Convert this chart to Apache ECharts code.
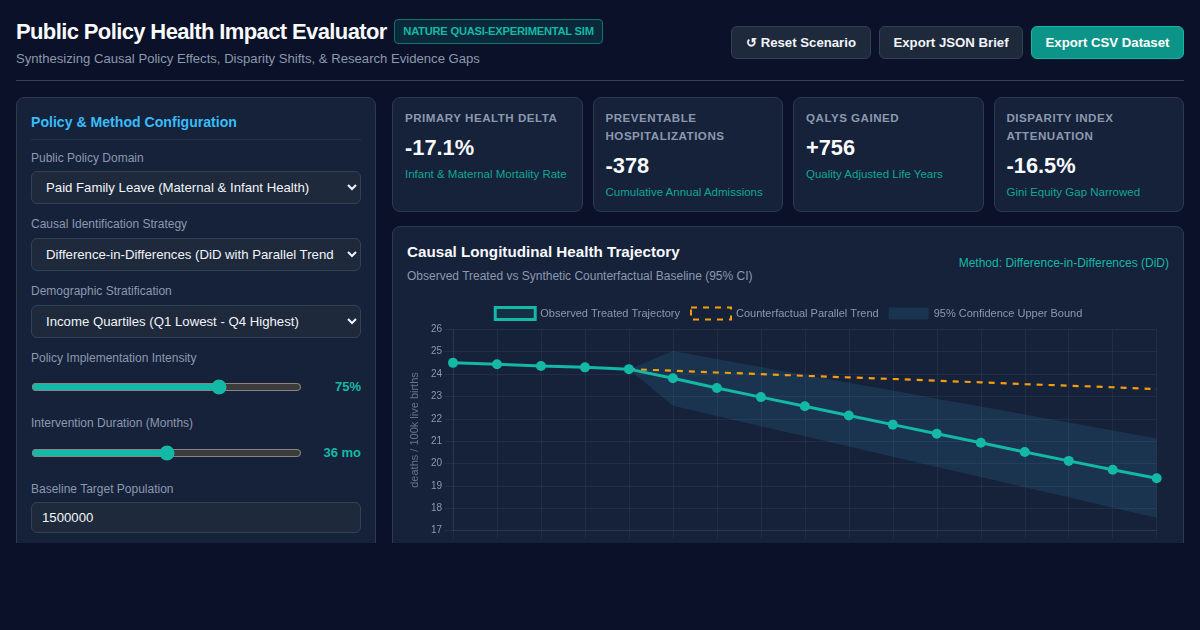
<!DOCTYPE html>
<html lang="en"><head><meta charset="utf-8">
<title>Public Policy Health Impact Evaluator</title>
<script src="https://cdn.jsdelivr.net/npm/echarts@6/dist/echarts.min.js"></script>
<style>
*{box-sizing:border-box}
html,body{margin:0;width:1200px;height:630px;overflow:hidden;background:#0a1128;color-scheme:dark;font-family:"Liberation Sans",Arial,sans-serif}
#page{position:relative;width:1200px;height:543px;overflow:hidden}
#page>*{position:absolute}
h1{margin:0;left:16px;top:17px;font-size:22px;line-height:30px;font-weight:700;letter-spacing:-.62px;color:#f8fafc;white-space:nowrap}
.badge{left:394px;top:19px;width:209px;height:25px;line-height:23px;text-align:center;border:1px solid #0f766e;border-radius:4px;background:rgba(20,184,166,.15);color:#14b8a6;font-size:11.2px;font-weight:700;letter-spacing:-.25px;white-space:nowrap}
.sub{left:16px;top:50px;font-size:13.12px;line-height:17px;color:#8b99ae;white-space:nowrap}
.btn{top:26px;height:33px;line-height:31px;text-align:center;border:1px solid #334155;border-radius:6px;background:#1e293b;color:#f1f5f9;font-size:13.2px;font-weight:700;white-space:nowrap}
.btn.pri{background:#0d9488;border-color:#14b8a6;color:#fff}
.rule{left:16px;top:80px;width:1168px;height:1px;background:#334155}
.panel{background:#16213a;border:1px solid #2c3a50;border-radius:8px}
.side{left:16px;top:97px;width:360px;height:480px}
.side>*{position:absolute}
.side h2{margin:0;left:14px;top:15px;font-size:14.1px;line-height:18px;color:#38bdf8;font-weight:700;white-space:nowrap}
.side .div{left:14px;top:41px;width:330px;height:1px;background:#25324a}
.side label{left:14px;font-size:12px;line-height:14px;color:#8b99ae;white-space:nowrap}
.side select,.side input.txt{left:14px;width:330px;height:33px;background:#1e293b;color:#f1f5f9;border:1px solid #334155;border-radius:6px;font:13.2px "Liberation Sans",Arial,sans-serif;padding:0 10px;outline:none}
.side input.txt{height:31px}
.side input[type=range]{left:14px;width:271px;margin:0;height:16px;accent-color:#14b8a6}
.side .val{right:14px;font-size:13px;font-weight:700;color:#14b8a6;line-height:16px;white-space:nowrap}
.card{top:97px;height:115px;width:190.5px;padding:11px 12px 0}
.card .k{font-size:11.6px;line-height:18px;font-weight:700;letter-spacing:.5px;color:#8b99ae;text-transform:uppercase}
.card .v{font-size:21.8px;line-height:28px;margin-top:7px;font-weight:700;color:#f8fafc}
.card .d{font-size:11.5px;line-height:14px;margin-top:5px;color:#10a696;white-space:nowrap}
.chartPanel{left:392px;top:226px;width:792px;height:360px}
.chartPanel>*{position:absolute}
.chartPanel h3{margin:0;left:14px;top:16px;font-size:15.2px;line-height:18px;color:#f8fafc;font-weight:700}
.chartPanel p{margin:0;left:14px;top:42px;font-size:12px;line-height:14px;color:#8b99ae}
.chartPanel .m{right:14px;top:29px;font-size:12px;line-height:14px;color:#14b8a6}
#chart{left:392px;top:290px;width:792px;height:253px}
</style></head><body>
<div id="page">
  <h1>Public Policy Health Impact Evaluator</h1>
  <div class="badge">NATURE QUASI-EXPERIMENTAL SIM</div>
  <div class="sub">Synthesizing Causal Policy Effects, Disparity Shifts, &amp; Research Evidence Gaps</div>
  <div class="btn" style="left:731px;width:140px">↺ Reset Scenario</div>
  <div class="btn" style="left:879px;width:144px">Export JSON Brief</div>
  <div class="btn pri" style="left:1031px;width:153px">Export CSV Dataset</div>
  <div class="rule"></div>

  <div class="panel side">
    <h2>Policy &amp; Method Configuration</h2><div class="div"></div>
    <label style="top:53px">Public Policy Domain</label>
    <select style="top:73px"><option>Paid Family Leave (Maternal &amp; Infant Health)</option></select>
    <label style="top:119px">Causal Identification Strategy</label>
    <select style="top:140px"><option>Difference-in-Differences (DiD with Parallel Trends)</option></select>
    <label style="top:186px">Demographic Stratification</label>
    <select style="top:207px"><option>Income Quartiles (Q1 Lowest - Q4 Highest)</option></select>
    <label style="top:253px">Policy Implementation Intensity</label>
    <input type="range" style="top:281px" min="15" max="100" value="75"><div class="val" style="top:281px">75%</div>
    <label style="top:318px">Intervention Duration (Months)</label>
    <input type="range" style="top:347px" min="12" max="60" value="36"><div class="val" style="top:347px">36 mo</div>
    <label style="top:384px">Baseline Target Population</label>
    <input class="txt" style="top:404px" value="1500000">
  </div>

  <div class="panel card" style="left:392px"><div class="k">Primary Health Delta</div><div class="v">-17.1%</div><div class="d">Infant &amp; Maternal Mortality Rate</div></div>
  <div class="panel card" style="left:592.5px"><div class="k">Preventable Hospitalizations</div><div class="v">-378</div><div class="d">Cumulative Annual Admissions</div></div>
  <div class="panel card" style="left:793px"><div class="k">QALYs Gained</div><div class="v">+756</div><div class="d">Quality Adjusted Life Years</div></div>
  <div class="panel card" style="left:993.5px"><div class="k">Disparity Index Attenuation</div><div class="v">-16.5%</div><div class="d">Gini Equity Gap Narrowed</div></div>

  <div class="panel chartPanel">
    <h3>Causal Longitudinal Health Trajectory</h3>
    <p>Observed Treated vs Synthetic Counterfactual Baseline (95% CI)</p>
    <div class="m">Method: Difference-in-Differences (DiD)</div>
  </div>
  <div id="chart"></div>
</div>
<script>
const months = ['M-12','M-9','M-6','M-3','M0','M3','M6','M9','M12','M15','M18','M21','M24','M27','M30','M33','M36'];
const observed = [24.5,24.44,24.36,24.3,24.22,23.81,23.38,22.97,22.56,22.15,21.74,21.33,20.93,20.52,20.12,19.72,19.34];
const counterfactual = [null,null,null,null,24.22,24.15,24.07,24.0,23.92,23.85,23.78,23.7,23.63,23.55,23.48,23.41,23.33];
const ciUpper = [null,null,null,null,24.22,25.03,24.67,24.32,23.97,23.61,23.26,22.9,22.55,22.19,21.84,21.48,21.13];
const ciLower = [null,null,null,null,24.22,22.58,22.13,21.67,21.22,20.76,20.31,19.85,19.4,18.94,18.49,18.03,17.58];
const yMin = 17, yMax = 26;
const names = ['Observed Treated Trajectory','Counterfactual Parallel Trend','95% Confidence Upper Bound'];

const gridCol = 'rgba(148,163,184,0.09)';
const teal = '#14b8a6', amber = '#f59e0b', bandCol = 'rgba(56,189,248,0.12)';
const ciSpread = ciUpper.map((u,i)=> u==null ? null : +(u-ciLower[i]).toFixed(2));
const chart = echarts.init(document.getElementById('chart'),null,{renderer:'canvas'});
const lineStyle = {color:gridCol,width:1};
chart.setOption({
  animation:false,
  textStyle:{fontFamily:'"Liberation Sans",Arial,sans-serif'},
  grid:{left:61,right:27.3,top:39.3,height:201.4,containLabel:false},
  legend:{
    top:11,left:'center',itemWidth:40,itemHeight:12,itemGap:10,
    textStyle:{color:'#8b99ae',fontSize:11},
    data:[
      {name:names[0],icon:'rect',itemStyle:{color:'rgba(20,184,166,0.1)',borderColor:teal,borderWidth:3}},
      {name:names[1],icon:'rect',itemStyle:{color:'rgba(0,0,0,0)',borderColor:amber,borderWidth:2,borderType:[6,6]}},
      {name:names[2],icon:'rect',itemStyle:{color:bandCol,borderWidth:0}}
    ]
  },
  xAxis:{type:'category',data:months,boundaryGap:false,
    axisLine:{show:true,lineStyle},axisTick:{show:true,length:8,lineStyle,alignWithLabel:true},
    axisLabel:{show:false},splitLine:{show:true,lineStyle}},
  yAxis:{type:'value',min:yMin,max:yMax,interval:1,
    name:'deaths / 100k live births',nameLocation:'middle',nameGap:29,
    nameTextStyle:{color:'#64748b',fontSize:11},
    axisLine:{show:true,lineStyle},axisTick:{show:true,length:8,lineStyle},
    axisLabel:{color:'#8b99ae',fontSize:10,margin:11},splitLine:{show:true,lineStyle}},
  series:[
    {name:'ciLower',type:'line',stack:'ci',data:ciLower,showSymbol:false,symbol:'none',lineStyle:{width:0,opacity:0},z:1},
    {name:names[2],type:'line',stack:'ci',data:ciSpread,showSymbol:false,symbol:'none',lineStyle:{width:0,opacity:0},itemStyle:{color:bandCol},areaStyle:{color:bandCol,opacity:1},z:1},
    {name:names[1],type:'line',data:counterfactual,showSymbol:false,symbol:'none',itemStyle:{color:amber},lineStyle:{color:amber,width:2.2,type:[6,6]},z:2},
    {name:names[0],type:'line',data:observed,symbol:'circle',symbolSize:10,itemStyle:{color:teal},lineStyle:{color:teal,width:3},z:3}
  ]
});
</script>
</body></html>
